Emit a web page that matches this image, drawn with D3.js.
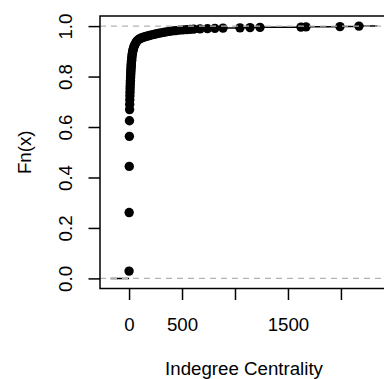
<!DOCTYPE html>
<html>
<head>
<meta charset="utf-8">
<script src="https://cdn.jsdelivr.net/npm/d3@7"></script>
<style>
  html, body { margin: 0; padding: 0; background: #fff; }
  svg { display: block; font-family: "Liberation Sans", Arial, sans-serif; }
</style>
</head>
<body>
<div id="chart"></div>
<script>
// ── Data: distinct indegree values (knots) and ECDF value at each ────────────
const indegree = [
    0, 1, 2, 3, 4, 5, 6, 7, 8, 9, 10, 11, 12, 13, 14, 15, 16, 17, 18, 19,
    20, 21, 22, 23, 24, 25, 27, 29, 31, 34, 37, 40, 44, 48, 53, 58, 64, 70,
    77, 85, 95, 105, 118, 130, 145, 160, 178, 195, 215, 235, 255, 275, 300,
    325, 350, 380, 410, 440, 475, 510, 545, 575, 610, 670, 740, 810, 887,
    1047, 1142, 1236, 1623, 1670, 1991, 2170
];
const cumProb = [
    0.029, 0.261, 0.444, 0.563, 0.625, 0.669, 0.690, 0.708, 0.724, 0.738,
    0.751, 0.763, 0.774, 0.784, 0.794, 0.803, 0.812, 0.820, 0.828, 0.835,
    0.842, 0.848, 0.854, 0.860, 0.865, 0.870, 0.878, 0.885, 0.891, 0.898,
    0.904, 0.909, 0.915, 0.920, 0.925, 0.929, 0.934, 0.938, 0.942, 0.945,
    0.948, 0.951, 0.953, 0.955, 0.957, 0.959, 0.961, 0.963, 0.965, 0.967,
    0.969, 0.971, 0.973, 0.975, 0.977, 0.979, 0.981, 0.982, 0.984, 0.985,
    0.986, 0.987, 0.988, 0.989, 0.990, 0.991, 0.992, 0.993, 0.994, 0.995,
    0.996, 0.997, 0.998, 1.000
];

const xTicks = [0, 500, 1000, 1500, 2000];
const xTickLabels = ["0", "500", "", "1500", ""];   // R drops the overlapping ones
const yTicks = [0, 0.2, 0.4, 0.6, 0.8, 1.0];
const yTickLabels = ["0.0", "0.2", "0.4", "0.6", "0.8", "1.0"];
const xTitle = "Indegree Centrality";
const yTitle = "Fn(x)";

// ── Layout ───────────────────────────────────────────────────────────────────
const W = 384, H = 379;
const plot = { left: 100, top: 16, right: 388, bottom: 288.5 };
const FONT = 18.7;

// R's plot.stepfun: xlim = range(knots) +/- 8%, then usr adds 4% more
const kMin = d3.min(indegree), kMax = d3.max(indegree);
const dr = 0.08 * (kMax - kMin);
const xlim = [kMin - dr, kMax + dr];
const pad = 0.04 * (xlim[1] - xlim[0]);

const x = d3.scaleLinear().domain([xlim[0] - pad, xlim[1] + pad]).range([plot.left, plot.right]);
const y = d3.scaleLinear().domain([-0.04, 1.04]).range([plot.bottom, plot.top]);

const svg = d3.select("#chart").append("svg")
    .attr("width", W)
    .attr("height", H)
    .attr("viewBox", `0 0 ${W} ${H}`);

svg.append("defs").append("clipPath").attr("id", "plot-clip")
    .append("rect")
    .attr("x", plot.left).attr("y", plot.top)
    .attr("width", plot.right - plot.left).attr("height", plot.bottom - plot.top);

const g = svg.append("g").attr("clip-path", "url(#plot-clip)");

// ── Step segments ────────────────────────────────────────────────────────────
const steps = [{ x0: xlim[0], x1: indegree[0], p: 0 }];
indegree.forEach((v, i) => {
    steps.push({ x0: v, x1: i < indegree.length - 1 ? indegree[i + 1] : xlim[1], p: cumProb[i] });
});

g.selectAll(".step")
    .data(steps)
    .enter()
    .append("line")
    .attr("class", "step")
    .attr("x1", d => x(d.x0)).attr("x2", d => x(d.x1))
    .attr("y1", d => y(d.p)).attr("y2", d => y(d.p))
    .attr("stroke", "#000")
    .attr("stroke-width", 1.5);

g.selectAll(".pt")
    .data(indegree)
    .enter()
    .append("circle")
    .attr("class", "pt")
    .attr("cx", d => x(d))
    .attr("cy", (d, i) => y(cumProb[i]))
    .attr("r", 4.7)
    .attr("fill", "#000");

// ── 0 / 1 reference lines (drawn last, as abline does) ───────────────────────
g.selectAll(".ref")
    .data([0, 1])
    .enter()
    .append("line")
    .attr("class", "ref")
    .attr("x1", plot.left).attr("x2", plot.right)
    .attr("y1", d => y(d)).attr("y2", d => y(d))
    .attr("stroke", "#b3b3b3")
    .attr("stroke-width", 1.3)
    .attr("stroke-dasharray", "6,5");

// ── Box ──────────────────────────────────────────────────────────────────────
svg.append("rect")
    .attr("x", plot.left).attr("y", plot.top)
    .attr("width", plot.right - plot.left).attr("height", plot.bottom - plot.top)
    .attr("fill", "none")
    .attr("stroke", "#000")
    .attr("stroke-width", 1.5);

// ── Axes ─────────────────────────────────────────────────────────────────────
const xAxis = svg.append("g")
    .attr("transform", `translate(0,${plot.bottom})`)
    .call(d3.axisBottom(x).tickValues(xTicks).tickSize(11.5).tickPadding(18)
        .tickFormat((d, i) => xTickLabels[i]));

const yAxis = svg.append("g")
    .attr("transform", `translate(${plot.left},0)`)
    .call(d3.axisLeft(y).tickValues(yTicks).tickSize(11.5)
        .tickFormat((d, i) => yTickLabels[i]));

[xAxis, yAxis].forEach(ax => {
    ax.select(".domain").remove();
    ax.selectAll(".tick line").attr("stroke", "#000").attr("stroke-width", 1.5);
    ax.selectAll(".tick text")
        .attr("fill", "#000")
        .style("font-size", FONT + "px")
        .style("font-family", "'Liberation Sans', Arial, sans-serif");
});

yAxis.selectAll(".tick text")
    .attr("transform", "rotate(-90)")
    .attr("text-anchor", "middle")
    .attr("x", 0)
    .attr("y", -28)
    .attr("dy", 0);

// ── Titles ───────────────────────────────────────────────────────────────────
svg.append("text")
    .attr("x", (plot.left + plot.right) / 2)
    .attr("y", 375)
    .attr("text-anchor", "middle")
    .style("font-size", FONT + "px")
    .text(xTitle);

svg.append("text")
    .attr("transform", `translate(31,${(plot.top + plot.bottom) / 2}) rotate(-90)`)
    .attr("text-anchor", "middle")
    .style("font-size", FONT + "px")
    .text(yTitle);
</script>
</body>
</html>
